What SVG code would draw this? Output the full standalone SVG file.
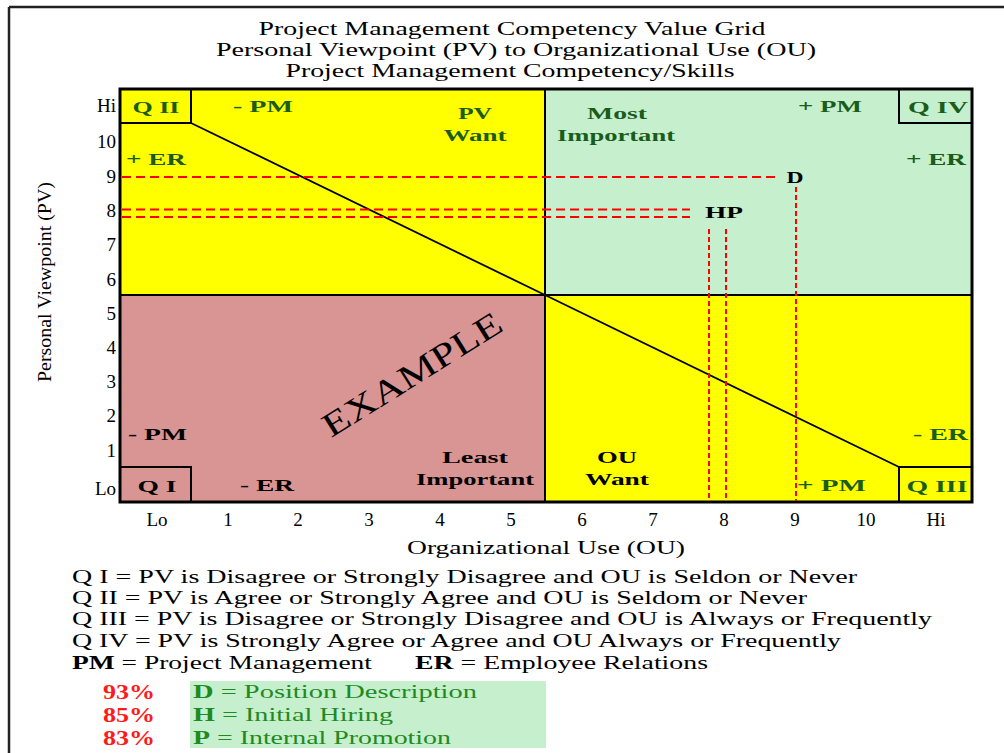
<svg xmlns="http://www.w3.org/2000/svg" width="1004" height="753" viewBox="0 0 1004 753">
<style>
.t{font-family:"Liberation Serif","Times New Roman",serif;fill:#000}
.b{font-family:"Liberation Serif","Times New Roman",serif;font-weight:bold}
.g{fill:#1a5c1a}
.k{fill:#000}
.tick{font-family:"Liberation Serif","Times New Roman",serif;font-size:19px;fill:#000}
.red{stroke:#ff0000;stroke-width:2;fill:none}
.pct{font-family:"Liberation Serif","Times New Roman",serif;font-weight:bold;font-size:20px;fill:#ff1a1a}
.key{font-family:"Liberation Serif","Times New Roman",serif;font-size:19px;fill:#1f8a1f}
</style>
<rect x="0" y="0" width="1004" height="753" fill="#fff"/>
<path d="M9 7 H1004 M9 7 V753" stroke="#222" stroke-width="2.5" fill="none"/>
<g id="title" class="t" font-size="19" text-anchor="middle">
<text x="512" y="35" textLength="507" lengthAdjust="spacingAndGlyphs">Project Management Competency Value Grid</text>
<text x="516" y="56" textLength="600" lengthAdjust="spacingAndGlyphs">Personal Viewpoint (PV) to Organizational Use (OU)</text>
<text x="510" y="77" textLength="449" lengthAdjust="spacingAndGlyphs">Project Management Competency/Skills</text>
</g>
<g id="grid">
<rect x="120" y="89" width="425" height="206" fill="#ffff00"/>
<rect x="545" y="89" width="427" height="206" fill="#c6efce"/>
<rect x="120" y="295" width="425" height="207" fill="#d99594"/>
<rect x="545" y="295" width="427" height="207" fill="#ffff00"/>
<path d="M545 89 V502 M120 295 H972" stroke="#000" stroke-width="2"/>
<path d="M120 123 H191 V89 M899 89 V123 H972 M120 467 H191 V502 M899 502 V467 H972" stroke="#000" stroke-width="2" fill="none"/>
<rect x="120" y="89" width="852" height="413" fill="none" stroke="#000" stroke-width="3"/>
</g>
<g id="connectors">
<polyline points="191,123 545,295 899,467" fill="none" stroke="#000" stroke-width="1.8"/>
<path class="red" d="M122 177 H780 M122 209.5 H690 M122 217 H690" stroke-dasharray="9,5"/>
<path class="red" d="M709 229 V501 M726 229 V501 M796 187 V501" stroke-dasharray="5,3"/>
</g>
<g id="quadrant-labels" class="b" font-size="17">
<text class="g" x="156" y="113" text-anchor="middle" textLength="47" lengthAdjust="spacingAndGlyphs">Q II</text>
<text class="g" x="233" y="112" textLength="60" lengthAdjust="spacingAndGlyphs">- PM</text>
<text class="g" x="475" y="119" text-anchor="middle" textLength="34" lengthAdjust="spacingAndGlyphs">PV</text>
<text class="g" x="475" y="141" text-anchor="middle" textLength="63" lengthAdjust="spacingAndGlyphs">Want</text>
<text class="g" x="617" y="119" text-anchor="middle" textLength="60" lengthAdjust="spacingAndGlyphs">Most</text>
<text class="g" x="616" y="141" text-anchor="middle" textLength="118" lengthAdjust="spacingAndGlyphs">Important</text>
<text class="g" x="798" y="112" textLength="64" lengthAdjust="spacingAndGlyphs">+ PM</text>
<text class="g" x="938" y="113" text-anchor="middle" textLength="60" lengthAdjust="spacingAndGlyphs">Q IV</text>
<text class="g" x="126" y="165" textLength="60" lengthAdjust="spacingAndGlyphs">+ ER</text>
<text class="g" x="906" y="165" textLength="60" lengthAdjust="spacingAndGlyphs">+ ER</text>
<text class="g" x="913" y="440" textLength="55" lengthAdjust="spacingAndGlyphs">- ER</text>
<text class="g" x="797" y="491" textLength="69" lengthAdjust="spacingAndGlyphs">+ PM</text>
<text class="g" x="937" y="492" text-anchor="middle" textLength="61" lengthAdjust="spacingAndGlyphs">Q III</text>
<text class="k" x="128" y="440" textLength="59" lengthAdjust="spacingAndGlyphs">- PM</text>
<text class="k" x="240" y="491" textLength="54" lengthAdjust="spacingAndGlyphs">- ER</text>
<text class="k" x="157" y="492" text-anchor="middle" textLength="39" lengthAdjust="spacingAndGlyphs">Q I</text>
<text class="k" x="475" y="463" text-anchor="middle" textLength="66" lengthAdjust="spacingAndGlyphs">Least</text>
<text class="k" x="475" y="485" text-anchor="middle" textLength="118" lengthAdjust="spacingAndGlyphs">Important</text>
<text class="k" x="617" y="463" text-anchor="middle" textLength="40" lengthAdjust="spacingAndGlyphs">OU</text>
<text class="k" x="617" y="485" text-anchor="middle" textLength="64" lengthAdjust="spacingAndGlyphs">Want</text>
</g>
<g id="points" class="b" font-size="17">
<text class="k" x="795" y="183" text-anchor="middle" textLength="17" lengthAdjust="spacingAndGlyphs">D</text>
<text class="k" x="724" y="218" text-anchor="middle" textLength="38" lengthAdjust="spacingAndGlyphs">HP</text>
</g>
<g id="example">
<text class="t" font-size="34" x="0" y="0" text-anchor="middle" textLength="205" lengthAdjust="spacingAndGlyphs" transform="translate(418,384) rotate(-32)">EXAMPLE</text>
</g>
<g id="y-axis" class="tick" text-anchor="end">
<text x="116" y="112">Hi</text>
<text x="116" y="148">10</text>
<text x="116" y="183">9</text>
<text x="116" y="217">8</text>
<text x="116" y="251">7</text>
<text x="116" y="286">6</text>
<text x="116" y="320">5</text>
<text x="116" y="354">4</text>
<text x="116" y="388">3</text>
<text x="116" y="422">2</text>
<text x="116" y="457">1</text>
<text x="116" y="495">Lo</text>
</g>
<g id="x-axis" class="tick" text-anchor="middle">
<text x="157" y="526">Lo</text>
<text x="228" y="526">1</text>
<text x="298" y="526">2</text>
<text x="369" y="526">3</text>
<text x="440" y="526">4</text>
<text x="511" y="526">5</text>
<text x="582" y="526">6</text>
<text x="653" y="526">7</text>
<text x="724" y="526">8</text>
<text x="795" y="526">9</text>
<text x="866" y="526">10</text>
<text x="936" y="526">Hi</text>
</g>
<g id="axis-titles" class="t" font-size="19" text-anchor="middle">
<text x="546" y="554" textLength="278" lengthAdjust="spacingAndGlyphs">Organizational Use (OU)</text>
<text x="0" y="0" textLength="200" lengthAdjust="spacingAndGlyphs" transform="translate(51,282) rotate(-90)">Personal Viewpoint (PV)</text>
</g>
<g id="legend" class="t" font-size="19">
<text x="72" y="583" textLength="785" lengthAdjust="spacingAndGlyphs">Q I = PV is Disagree or Strongly Disagree and OU is Seldon or Never</text>
<text x="72" y="604" textLength="735" lengthAdjust="spacingAndGlyphs">Q II = PV is Agree or Strongly Agree and OU is Seldom or Never</text>
<text x="72" y="625" textLength="860" lengthAdjust="spacingAndGlyphs">Q III = PV is Disagree or Strongly Disagree and OU is Always or Frequently</text>
<text x="72" y="647" textLength="769" lengthAdjust="spacingAndGlyphs">Q IV = PV is Strongly Agree or Agree and OU Always or Frequently</text>
<text x="72" y="669" textLength="300" lengthAdjust="spacingAndGlyphs"><tspan font-weight="bold">PM</tspan> = Project Management</text>
<text x="415" y="669" textLength="293" lengthAdjust="spacingAndGlyphs"><tspan font-weight="bold">ER</tspan> = Employee Relations</text>
</g>
<g id="key">
<rect x="190" y="681" width="356" height="67" fill="#c6efce"/>
<text class="pct" x="103" y="699" textLength="52" lengthAdjust="spacingAndGlyphs">93%</text>
<text class="pct" x="103" y="722" textLength="52" lengthAdjust="spacingAndGlyphs">85%</text>
<text class="pct" x="103" y="745" textLength="52" lengthAdjust="spacingAndGlyphs">83%</text>
<text class="key" x="193" y="698" textLength="284" lengthAdjust="spacingAndGlyphs"><tspan font-weight="bold">D</tspan> = Position Description</text>
<text class="key" x="193" y="721" textLength="200" lengthAdjust="spacingAndGlyphs"><tspan font-weight="bold">H</tspan> = Initial Hiring</text>
<text class="key" x="193" y="744" textLength="258" lengthAdjust="spacingAndGlyphs"><tspan font-weight="bold">P</tspan> = Internal Promotion</text>
</g>
</svg>
